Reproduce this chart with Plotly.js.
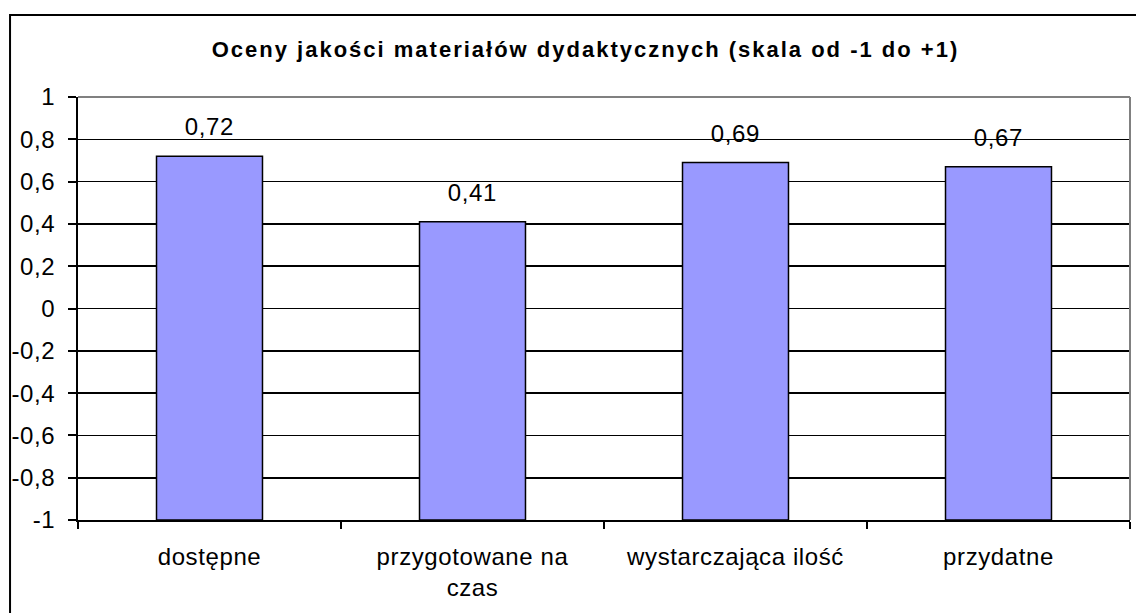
<!DOCTYPE html>
<html>
<head>
<meta charset="utf-8">
<script src="https://cdn.plot.ly/plotly-3.0.1.min.js"></script>
<style>
html,body{margin:0;padding:0;background:#fff;}
#chart{width:1136px;height:613px;}
#chart .gtitle{letter-spacing:2px;}
#chart .xtick text, #chart .ytick text, #chart .annotation-text{letter-spacing:0.6px;}
</style>
</head>
<body>
<div id="chart"></div>
<script>
const categories = ["dostępne", "przygotowane na<br>czas", "wystarczająca ilość", "przydatne"];
const values = [0.72, 0.41, 0.69, 0.67];
const valueLabels = ["0,72", "0,41", "0,69", "0,67"];
const yTickVals = [-1, -0.8, -0.6, -0.4, -0.2, 0, 0.2, 0.4, 0.6, 0.8, 1];
const yTickText = ["-1", "-0,8", "-0,6", "-0,4", "-0,2", "0", "0,2", "0,4", "0,6", "0,8", "1"];
const axisBase = -1;
const titleText = "Oceny jakości materiałów dydaktycznych (skala od -1 do +1)";

const FONT = "Liberation Sans, Arial, sans-serif";

const trace = {
  type: "bar",
  x: categories,
  y: values.map(v => v - axisBase),
  base: axisBase,
  marker: { color: "#9999FF", line: { color: "#000000", width: 1.5 } },
  hoverinfo: "skip"
};

const annotations = categories.map((c, i) => ({
  x: c, y: values[i], xref: "x", yref: "y",
  text: valueLabels[i], showarrow: false,
  yanchor: "bottom", yshift: 14,
  font: { family: FONT, size: 24, color: "#000" }
}));

const layout = {
  width: 1136, height: 613,
  margin: { l: 78, r: 6, t: 97, b: 93 },
  paper_bgcolor: "#ffffff", plot_bgcolor: "#ffffff",
  showlegend: false,
  bargap: 0.597,
  font: { family: FONT, size: 24, color: "#000" },
  title: {
    text: "<b>" + titleText + "</b>",
    font: { family: FONT, size: 22, color: "#000" },
    xref: "paper", x: 0.4824, xanchor: "center",
    yref: "container", y: 1 - 49 / 613, yanchor: "middle"
  },
  xaxis: {
    type: "category",
    showline: true, linecolor: "#000", linewidth: 2,
    ticks: "outside", tickson: "boundaries", ticklen: 7, tickwidth: 2, tickcolor: "#000",
    ticklabelstandoff: 14,
    showgrid: false, zeroline: false,
    tickfont: { family: FONT, size: 24, color: "#000" },
    fixedrange: true
  },
  yaxis: {
    range: [-1, 1],
    tickmode: "array", tickvals: yTickVals, ticktext: yTickText,
    showline: true, linecolor: "#000", linewidth: 2,
    ticks: "outside", ticklen: 8, tickwidth: 2, tickcolor: "#000",
    ticklabelstandoff: 8,
    showgrid: true, gridcolor: "#000", gridwidth: 1.6,
    zeroline: false,
    tickfont: { family: FONT, size: 24, color: "#000" },
    fixedrange: true
  },
  annotations: annotations,
  shapes: [
    { type: "line", xref: "paper", yref: "paper", x0: 0, x1: 1, y0: 1, y1: 1,
      line: { color: "#808080", width: 2 }, layer: "above" },
    { type: "line", xref: "paper", yref: "paper", x0: 1, x1: 1, y0: 0, y1: 1,
      line: { color: "#808080", width: 2 }, layer: "above" },
    { type: "rect", xref: "paper", yref: "paper",
      x0: -0.0646, x1: 1.02, y0: -0.3, y1: 1.1939,
      line: { color: "#000", width: 2 }, fillcolor: "rgba(0,0,0,0)", layer: "above" }
  ]
};

Plotly.newPlot("chart", [trace], layout, { displayModeBar: false, staticPlot: true });
</script>
</body>
</html>
